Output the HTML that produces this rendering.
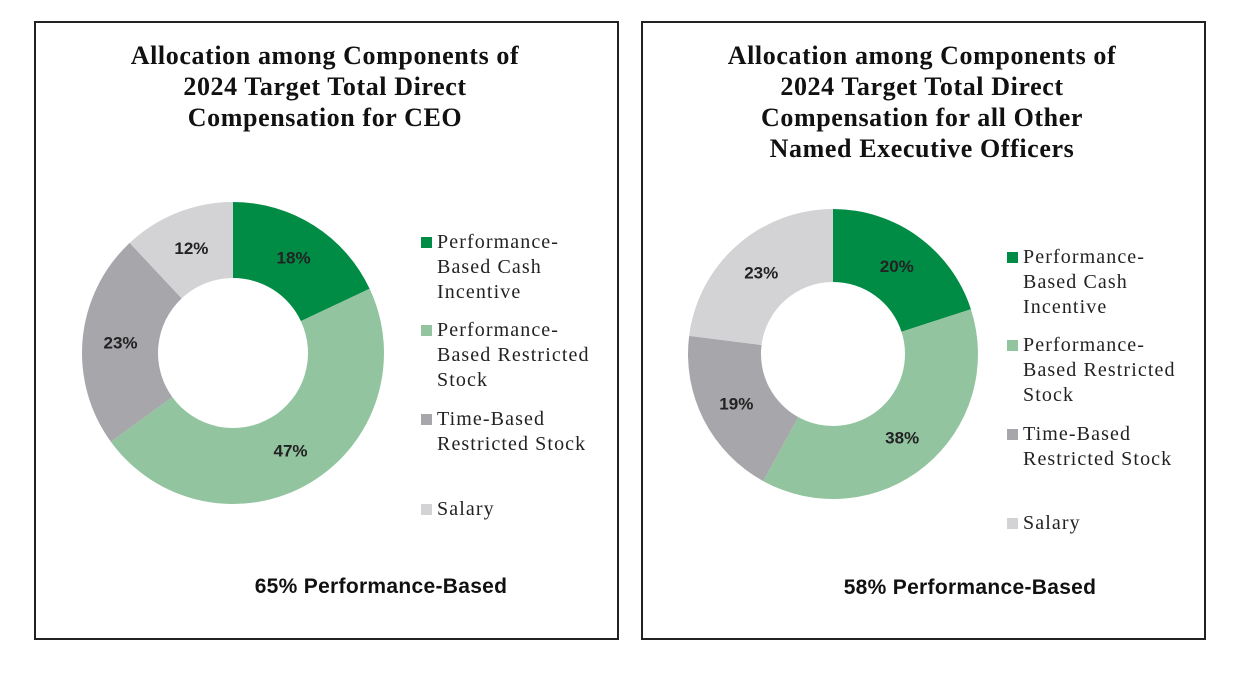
<!DOCTYPE html>
<html><head><meta charset="utf-8"><style>
body{margin:0;background:#fff;width:1237px;height:678px;overflow:hidden;position:relative}
.panel{position:absolute;border:2px solid #222;box-sizing:border-box}
.title{position:absolute;text-align:center;font-family:"Liberation Serif",serif;font-weight:bold;font-size:26px;letter-spacing:0.6px;line-height:31px;color:#111}
.leg{position:absolute;font-family:"Liberation Serif",serif;font-size:20px;letter-spacing:1.1px;line-height:25px;color:#222}
.sw{position:absolute;width:11px;height:11px}
.foot{position:absolute;font-family:"Liberation Sans",sans-serif;font-weight:bold;font-size:21px;letter-spacing:0.3px;color:#111;text-align:center}
svg{position:absolute;left:0;top:0}
</style></head><body>
<div class="panel" style="left:34px;top:21px;width:585px;height:619px"></div>
<div class="panel" style="left:641px;top:21px;width:565px;height:619px"></div>
<div class="title" style="left:75px;top:40px;width:500px">Allocation among Components of<br>2024 Target Total Direct<br>Compensation for CEO</div>
<div class="title" style="left:672px;top:40px;width:500px">Allocation among Components of<br>2024 Target Total Direct<br>Compensation for all Other<br>Named Executive Officers</div>
<svg id="chart" width="1237" height="678"></svg>
<div class="foot" style="left:181px;top:575px;width:400px">65% Performance-Based</div>
<div class="foot" style="left:770px;top:576px;width:400px">58% Performance-Based</div>

<div>
<div class="sw" style="left:421px;top:237px;background:#008c45"></div>
<div class="leg" style="left:437px;top:230px">Performance-<br>Based Cash<br>Incentive</div>
<div class="sw" style="left:421px;top:325px;background:#93c4a0"></div>
<div class="leg" style="left:437px;top:318px">Performance-<br>Based Restricted<br>Stock</div>
<div class="sw" style="left:421px;top:414px;background:#a6a6ab"></div>
<div class="leg" style="left:437px;top:407px">Time-Based<br>Restricted Stock</div>
<div class="sw" style="left:421px;top:504px;background:#d3d3d5"></div>
<div class="leg" style="left:437px;top:497px">Salary</div>
</div>
<div>
<div class="sw" style="left:1007px;top:252px;background:#008c45"></div>
<div class="leg" style="left:1023px;top:245px">Performance-<br>Based Cash<br>Incentive</div>
<div class="sw" style="left:1007px;top:340px;background:#93c4a0"></div>
<div class="leg" style="left:1023px;top:333px">Performance-<br>Based Restricted<br>Stock</div>
<div class="sw" style="left:1007px;top:429px;background:#a6a6ab"></div>
<div class="leg" style="left:1023px;top:422px">Time-Based<br>Restricted Stock</div>
<div class="sw" style="left:1007px;top:518px;background:#d3d3d5"></div>
<div class="leg" style="left:1023px;top:511px">Salary</div>
</div>

<script>
const categories = ["Performance-Based Cash Incentive","Performance-Based Restricted Stock","Time-Based Restricted Stock","Salary"];
const ceoValues = [18, 47, 23, 12];
const neoValues = [20, 38, 19, 23];
const colors = ["#008c45","#93c4a0","#a6a6ab","#d3d3d5"];
const NS = "http://www.w3.org/2000/svg";
const svg = document.getElementById("chart");
function pt(cx, cy, r, a){ return [cx + r*Math.sin(a), cy - r*Math.cos(a)]; }
function donut(values, cx, cy, ro, ri, prefix){
  const total = values.reduce((s,v)=>s+v,0);
  let acc = 0;
  values.forEach((v,i)=>{
    const a0 = acc/total*2*Math.PI, a1 = (acc+v)/total*2*Math.PI;
    acc += v;
    const large = (a1-a0) > Math.PI ? 1 : 0;
    const p0=pt(cx,cy,ro,a0), p1=pt(cx,cy,ro,a1), q1=pt(cx,cy,ri,a1), q0=pt(cx,cy,ri,a0);
    const path = document.createElementNS(NS,"path");
    path.setAttribute("d",`M${p0[0]},${p0[1]}A${ro},${ro} 0 ${large} 1 ${p1[0]},${p1[1]}L${q1[0]},${q1[1]}A${ri},${ri} 0 ${large} 0 ${q0[0]},${q0[1]}Z`);
    path.setAttribute("fill",colors[i]);
    
    
    svg.appendChild(path);
    const m = pt(cx,cy,(ro+ri)/2,(a0+a1)/2);
    const t = document.createElementNS(NS,"text");
    t.setAttribute("x",m[0]); t.setAttribute("y",m[1]+6);
    t.setAttribute("text-anchor","middle");
    t.setAttribute("font-family","Liberation Sans, sans-serif");
    t.setAttribute("font-weight","bold"); t.setAttribute("font-size","17");
    t.setAttribute("fill","#222");
    t.textContent = v+"%";
    
    
    svg.appendChild(t);
  });
}
donut(ceoValues, 233, 353, 151, 75, "ceo");
donut(neoValues, 833, 354, 145, 72, "neo");
</script>
</body></html>
